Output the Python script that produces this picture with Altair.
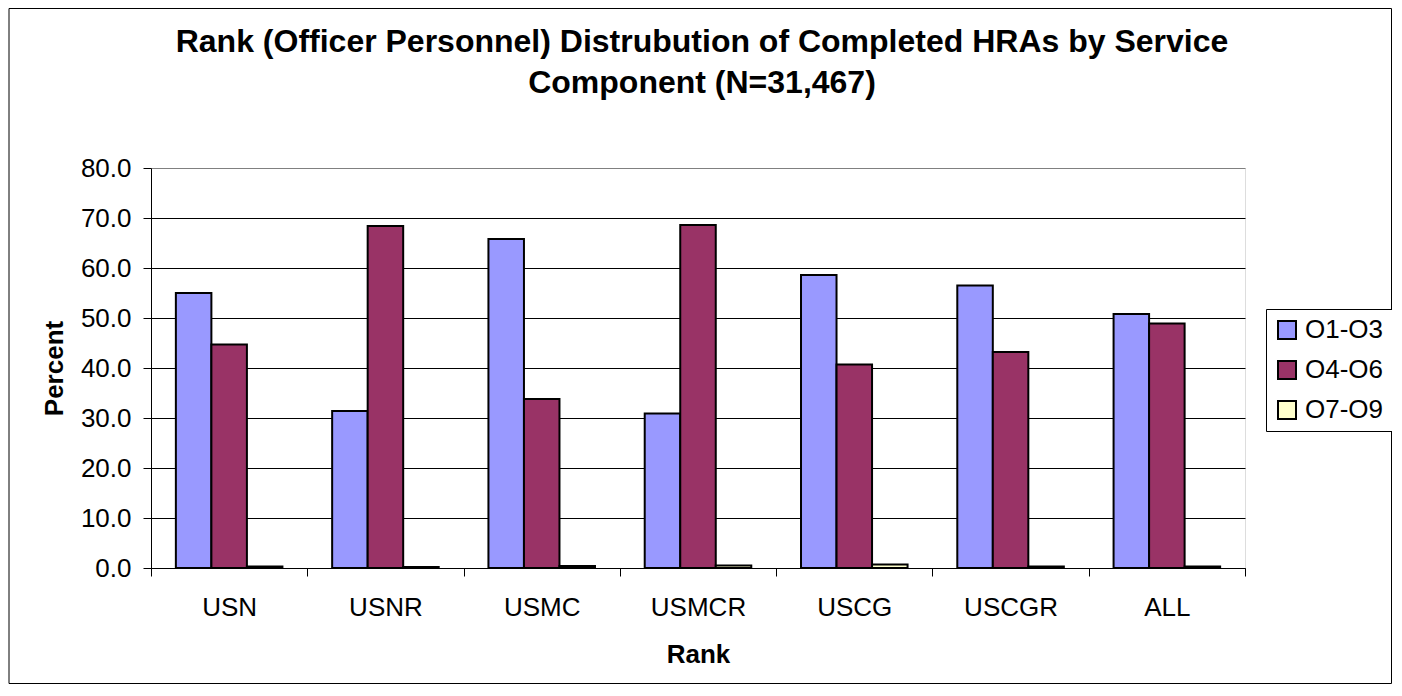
import altair as alt
import pandas as pd

components = ["USN", "USNR", "USMC", "USMCR", "USCG", "USCGR", "ALL"]
ranks = ["O1-O3", "O4-O6", "O7-O9"]
o1_o3 = [55.0, 31.4, 65.8, 30.9, 58.6, 56.5, 50.8]
o4_o6 = [44.7, 68.4, 33.8, 68.6, 40.7, 43.2, 48.9]
o7_o9 = [0.3, 0.2, 0.4, 0.5, 0.7, 0.3, 0.3]
colors = ["#9999FF", "#993366", "#FFFFCC"]
y_ticks = [0, 10, 20, 30, 40, 50, 60, 70, 80]
title_lines = ["Rank (Officer Personnel) Distrubution of Completed HRAs by Service",
               "Component (N=31,467)"]

rows = []
for series_name, series in zip(ranks, [o1_o3, o4_o6, o7_o9]):
    for comp, v in zip(components, series):
        rows.append({"Component": comp, "Group": series_name, "Percent": v})
df = pd.DataFrame(rows)

FONT = "Liberation Sans"

bars = alt.Chart(df).mark_bar(stroke="black", strokeWidth=2).encode(
    x=alt.X("Component:N", sort=components,
            scale=alt.Scale(paddingInner=0, paddingOuter=0),
            axis=alt.Axis(title="Rank", tickBand="extent", labelAngle=0,
                          labelFontSize=26, labelFont=FONT, labelColor="black",
                          labelBaseline="alphabetic", labelPadding=39,
                          titleFontSize=26, titleFont=FONT, titleFontWeight="bold",
                          titleColor="black", titleBaseline="alphabetic", titleY=94,
                          domainColor="black", domainWidth=1,
                          tickColor="black", tickSize=8, tickWidth=1, grid=False)),
    xOffset=alt.XOffset("Group:N", sort=ranks,
                        scale=alt.Scale(paddingInner=0, paddingOuter=0.7)),
    y=alt.Y("Percent:Q", scale=alt.Scale(domain=[0, 80], nice=False),
            axis=alt.Axis(title="Percent", values=y_ticks, format=".1f",
                          labelFontSize=26, labelFont=FONT, labelColor="black",
                          labelPadding=12,
                          titleFontSize=26, titleFont=FONT, titleFontWeight="bold",
                          titleColor="black", titleAngle=270, titleBaseline="alphabetic",
                          titleAlign="center", titleX=-89, titleY=200,
                          domainColor="black", domainWidth=1,
                          tickColor="black", tickSize=8, tickWidth=1,
                          grid=True,
                          gridColor={"condition": {"test": "datum.value === 80", "value": "#808080"},
                                     "value": "black"},
                          gridWidth=1)),
    color=alt.Color("Group:N", sort=ranks,
                    scale=alt.Scale(domain=ranks, range=colors),
                    legend=alt.Legend(title=None, orient="none", legendX=1115, legendY=141,
                                      strokeColor="black", fillColor="white", padding=8,
                                      symbolType="square", symbolSize=324,
                                      symbolStrokeColor="black", symbolStrokeWidth=2,
                                      labelFontSize=26, labelFont=FONT, labelColor="black",
                                      labelOffset=5, rowPadding=14)),
)

frame = alt.Chart(alt.Data(values=[{"a": 1}])).mark_rect(
    fill="transparent", stroke="black", strokeWidth=1
).encode(
    x=alt.value(-142), x2=alt.value(1240.5),
    y=alt.value(-159.5), y2=alt.value(515.5),
)

title = alt.Chart(alt.Data(values=[{"a": 1}])).mark_text(
    font=FONT, fontSize=32, fontWeight="bold", color="black",
    align="center", baseline="alphabetic", lineHeight=41
).encode(
    x=alt.value(551), y=alt.value(-116),
    text=alt.value(title_lines),
)

chart = alt.layer(frame, title, bars).properties(
    width=1094, height=400,
    autosize=alt.AutoSizeParams(type="none"),
    padding={"left": 143, "top": 160, "right": 147, "bottom": 116},
).configure_view(
    fill="#C0C0C0", stroke="#808080", strokeWidth=1.5
).configure(background="white")

chart.save("out.html", embed_options={"renderer": "svg", "actions": False})
